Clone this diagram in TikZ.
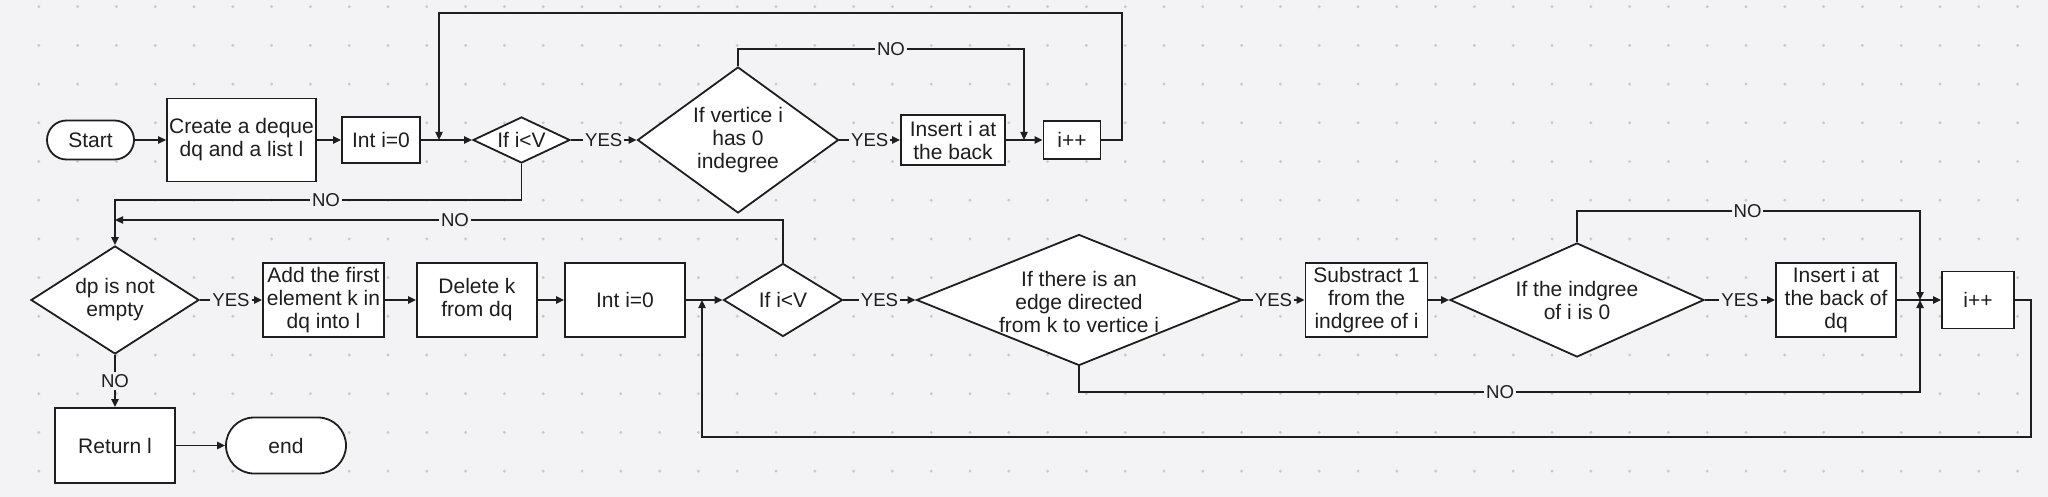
\documentclass[tikz,border=0pt]{standalone}
\usepackage{fontspec}
\setmainfont{Liberation Sans}
\usetikzlibrary{shapes.geometric,arrows.meta}
\definecolor{bgc}{RGB}{243,243,245}
\definecolor{dotc}{RGB}{200,200,205}
\definecolor{inkc}{RGB}{30,30,30}
\newcommand\nodefont{\fontsize{10.5pt}{11.5pt}\selectfont}
\newcommand\lblfont{\fontsize{9.3pt}{10pt}\selectfont}
\tikzset{
 box/.style={draw=inkc, fill=white, line width=0.9pt, inner sep=1pt, align=center, font=\nodefont, text=inkc},
 term/.style={box, rounded corners=#1},
 dia/.style={draw=inkc, fill=white, line width=0.9pt, diamond, inner sep=0pt},
 dtext/.style={align=center, font=\nodefont, text=inkc, inner sep=0pt},
 conn/.style={draw=inkc, line width=0.8pt},
 arr/.style={conn, -{Triangle[length=4pt,width=3.6pt]}},
 lbl/.style={fill=bgc, inner sep=1pt, font=\lblfont, text=inkc},
}
\begin{document}
\begin{tikzpicture}[x=0.5pt,y=-0.5pt]
\fill[bgc] (0,0) rectangle (2048,497);
\useasboundingbox (0,0) rectangle (2048,497);
\foreach \i in {1,...,52}{\foreach \j in {0,...,12}{\fill[dotc] (38.8*\i,6.7+38.7*\j) circle (0.8pt);}}

% row 1
\node[term=9.75pt, minimum width=43.5pt, minimum height=19.5pt] (start) at (90.5,140) {Start};
\node[box, minimum width=73.5pt, minimum height=41.5pt] (create) at (241.5,140) {Create a deque\\dq and a list l};
\node[box, minimum width=39pt, minimum height=23pt] (int1) at (381,140) {Int i=0};
\node[dia, minimum width=48.5pt, minimum height=23pt] (if1) at (521.5,140) {};
\node[dtext] (if1t) at (if1) {If i<V};
\node[dia, minimum width=100.5pt, minimum height=73pt] (vert) at (738,140) {};
\node[dtext] (vertt) at (vert) {If vertice i\\has 0\\indegree};
\node[box, minimum width=52pt, minimum height=25pt] (ins1) at (953,140) {Insert i at\\the back};
\node[box, minimum width=28.5pt, minimum height=19pt] (inc1) at (1072,140) {i++};

% row 2
\node[dia, minimum width=84pt, minimum height=54pt] (dp) at (115,300) {};
\node[dtext] (dpt) at (dp) {dp is not\\empty};
\node[box, minimum width=60.5pt, minimum height=37pt] (add) at (323.5,300) {Add the first\\element k in\\dq into l};
\node[box, minimum width=60pt, minimum height=37pt] (del) at (477,300) {Delete k\\from dq};
\node[box, minimum width=60pt, minimum height=37pt] (int2) at (625,300) {Int i=0};
\node[dia, minimum width=59.5pt, minimum height=36.5pt] (if2) at (783,300) {};
\node[dtext] (if2t) at (if2) {If i<V};
\node[dia, minimum width=162.5pt, minimum height=65.5pt] (edge) at (1079,300) {};
\node[dtext] (edget) at (1079,302) {If there is an\\edge directed\\from k to vertice i};
\node[box, minimum width=61pt, minimum height=37pt] (sub) at (1366.5,300) {Substract 1\\from the\\indgree of i};
\node[dia, minimum width=127pt, minimum height=57pt] (indg) at (1577,300) {};
\node[dtext] (indgt) at (indg) {If the indgree\\of i is 0};
\node[box, minimum width=60pt, minimum height=37pt] (ins2) at (1836,300) {Insert i at\\the back of\\dq};
\node[box, minimum width=36pt, minimum height=28.5pt] (inc2) at (1978,300) {i++};

% row 3
\node[box, minimum width=60pt, minimum height=37.5pt] (ret) at (115,445.5) {Return l};
\node[term=14pt, minimum width=60pt, minimum height=28pt] (end) at (286,445.5) {end};

% connectors row 1
\draw[arr] (start.east) -- (create.west);
\draw[arr] (create.east) -- (int1.west);
\draw[arr] (int1.east) -- (if1.west);
\draw[arr] (if1.east) -- node[lbl]{YES} (vert.west);
\draw[arr] (vert.east) -- node[lbl]{YES} (ins1.west);
\draw[arr] (ins1.east) -- (inc1.west);
\coordinate (j1) at (439,140);
\coordinate (c1a) at (1122,140);
\coordinate (c1b) at (1122,13.3);
\coordinate (c1c) at (439,13.3);
\draw[arr] (inc1.east) -- (c1a) -- (c1b) -- (c1c) -- (j1);
\coordinate (j2) at (1024,140);
\coordinate (c2b) at (1024,49);
\draw[arr] (vert.north) |- (c2b) -- (j2);
\node[lbl] (no1) at (891,49) {NO};
\coordinate (c3a) at (521.5,200);
\coordinate (c3b) at (115,200);
\draw[arr] (if1.south) -- (c3a) -- (c3b) -- (dp.north);
\node[lbl] (no2) at (326,200) {NO};
\coordinate (j3) at (115,220);
\draw[arr] (if2.north) |- (j3);
\node[lbl] (no3) at (455,220) {NO};

% connectors row 2
\draw[arr] (dp.east) -- node[lbl]{YES} (add.west);
\draw[arr] (add.east) -- (del.west);
\draw[arr] (del.east) -- (int2.west);
\draw[arr] (int2.east) -- (if2.west);
\draw[arr] (if2.east) -- node[lbl]{YES} (edge.west);
\draw[arr] (edge.east) -- node[lbl]{YES} (sub.west);
\draw[arr] (sub.east) -- (indg.west);
\draw[arr] (indg.east) -- node[lbl]{YES} (ins2.west);
\draw[arr] (ins2.east) -- (inc2.west);
\coordinate (j5) at (1920,300);
\coordinate (c5a) at (1920,211);
\draw[arr] (indg.north) |- (c5a) -- (j5);
\node[lbl] (no5) at (1747.5,211) {NO};
\coordinate (c6a) at (1920,391.7);
\draw[arr] (edge.south) |- (c6a) -- (j5);
\node[lbl] (no6) at (1500,391.7) {NO};
\coordinate (j4) at (702,300);
\coordinate (c4a) at (2031,300);
\coordinate (c4b) at (2031,436.7);
\coordinate (c4c) at (702,436.7);
\draw[arr] (inc2.east) -- (c4a) -- (c4b) -- (c4c) -- (j4);

% row 3
\draw[arr] (dp.south) -- node[lbl]{NO} (ret.north);
\draw[arr] (ret.east) -- (end.west);
\end{tikzpicture}
\end{document}
